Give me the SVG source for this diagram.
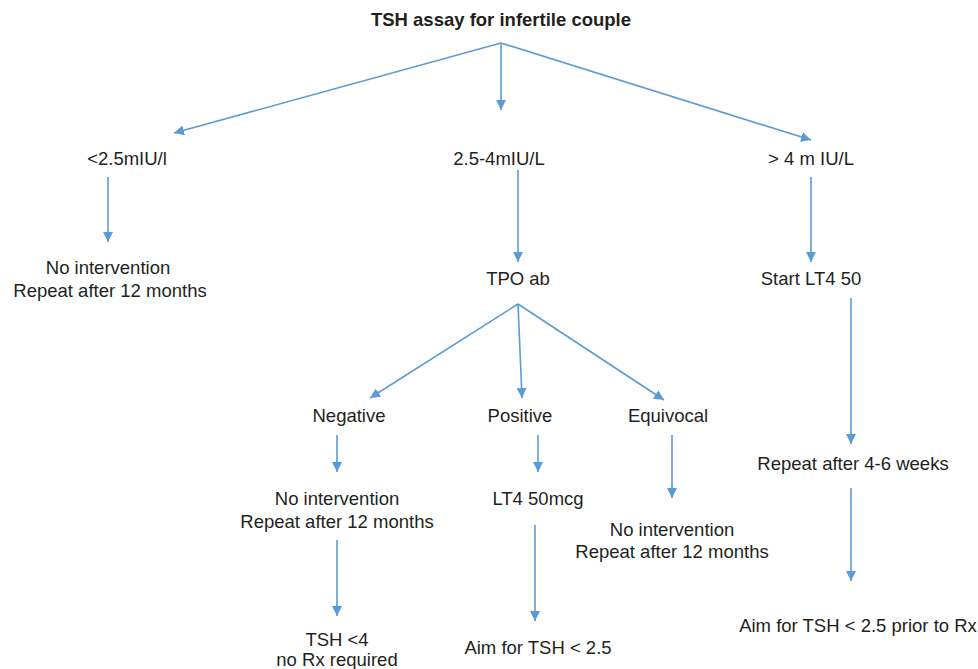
<svg xmlns="http://www.w3.org/2000/svg" width="978" height="669" viewBox="0 0 978 669">
<defs>
<marker id="ah" viewBox="0 0 10 10" refX="10" refY="5" markerWidth="10" markerHeight="10" markerUnits="userSpaceOnUse" orient="auto">
<path d="M0,0 L10,5 L0,10 z" fill="#5b9bd5"/>
</marker>
<style>
.c line{stroke:#5b9bd5;stroke-width:1.6;fill:none;marker-end:url(#ah)}
text{font-family:"Liberation Sans",Arial,sans-serif;font-size:18.5px;fill:#231f20;text-anchor:middle}
.b{font-weight:bold}
</style>
</defs>
<rect width="978" height="669" fill="#fff"/>
<g id="title"><text class="b" x="501" y="26">TSH assay for infertile couple</text></g>
<g id="lt25"><text x="127" y="165">&lt;2.5mIU/l</text></g>
<g id="mid"><text x="499" y="165">2.5-4mIU/L</text></g>
<g id="gt4"><text x="811" y="165">&gt; 4 m IU/L</text></g>
<g id="noint1"><text x="108" y="274">No intervention</text><text x="110" y="297">Repeat after 12 months</text></g>
<g id="tpo"><text x="518" y="285">TPO ab</text></g>
<g id="start"><text x="811" y="285">Start LT4 50</text></g>
<g id="neg"><text x="349" y="422">Negative</text></g>
<g id="pos"><text x="520" y="422">Positive</text></g>
<g id="equ"><text x="668" y="422">Equivocal</text></g>
<g id="noint2"><text x="337" y="505">No intervention</text><text x="337" y="528">Repeat after 12 months</text></g>
<g id="lt4mcg"><text x="538" y="505">LT4 50mcg</text></g>
<g id="noint3"><text x="672" y="536">No intervention</text><text x="672" y="558">Repeat after 12 months</text></g>
<g id="repeat46"><text x="853" y="470">Repeat after 4-6 weeks</text></g>
<g id="tsh4"><text x="337" y="646">TSH &lt;4</text><text x="337" y="666">no Rx required</text></g>
<g id="aim1"><text x="538" y="654">Aim for TSH &lt; 2.5</text></g>
<g id="aim2"><text x="858" y="632">Aim for TSH &lt; 2.5 prior to Rx</text></g>
<g class="c" id="connectors">
<line x1="501" y1="43" x2="174" y2="133"/>
<line x1="501" y1="43" x2="501" y2="110"/>
<line x1="501" y1="43" x2="811" y2="140"/>
<line x1="108" y1="177" x2="108" y2="242"/>
<line x1="518" y1="170" x2="518" y2="262"/>
<line x1="811" y1="177" x2="811" y2="262"/>
<line x1="518" y1="304" x2="370" y2="398"/>
<line x1="518" y1="304" x2="522" y2="398"/>
<line x1="518" y1="304" x2="664" y2="400"/>
<line x1="337" y1="435" x2="337" y2="472"/>
<line x1="538" y1="435" x2="538" y2="472"/>
<line x1="672" y1="435" x2="672" y2="498"/>
<line x1="337" y1="540" x2="337" y2="616"/>
<line x1="535" y1="525" x2="535" y2="621"/>
<line x1="851" y1="298" x2="851" y2="444"/>
<line x1="851" y1="488" x2="851" y2="581"/>
</g>
</svg>
